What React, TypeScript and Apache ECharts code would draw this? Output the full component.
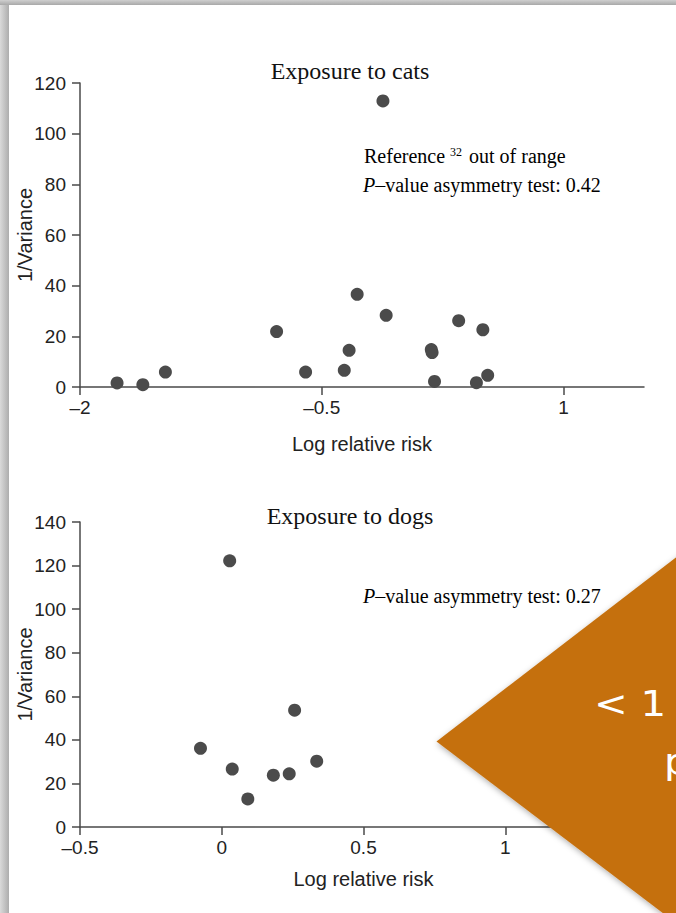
import React, { useEffect, useRef } from "react";
import * as echarts from "echarts";

// ---- data ----
const catsX = [-1.77, -1.61, -1.47, -0.78, -0.6, -0.36, -0.33, -0.28, -0.12, -0.1, 0.18, 0.185, 0.2, 0.35, 0.46, 0.5, 0.53];
const catsY = [1.6, 0.9, 5.9, 21.9, 5.9, 6.6, 14.5, 36.6, 112.9, 28.3, 14.8, 13.6, 2.2, 26.2, 1.7, 22.6, 4.6];
const dogsX = [0.028, 0.257, -0.075, 0.037, 0.092, 0.182, 0.238, 0.335];
const dogsY = [122.2, 53.6, 36.1, 26.6, 12.9, 23.8, 24.4, 30.2];

const catsXTicks = [-2, -0.5, 1];
const dogsXTicks = [-0.5, 0, 0.5, 1];

const catsTitle = "Exposure to cats";
const dogsTitle = "Exposure to dogs";
const catsNote1 = "{a|Reference }{s|32}{a| out of range}";
const catsNote2 = "{i|P}{a|–value asymmetry test: 0.42}";
const dogsNote = "{i|P}{a|–value asymmetry test: 0.27}";
const xName = "Log relative risk";
const yName = "1/Variance";

const sans = "'Liberation Sans', Arial, sans-serif";
const serif = "'Liberation Serif', 'Times New Roman', serif";
const slideFont = "'DejaVu Sans', 'Noto Sans', sans-serif";
const fmt = (v: number) => String(v).replace("-", "–");

const lineColor = "#4a4a4a";
const axisLine = { show: true, onZero: false, lineStyle: { color: lineColor, width: 1.5 } };
const axisTick = { show: true, length: 8, lineStyle: { color: lineColor, width: 1.5 } };
const axisLabel = { color: "#222", fontFamily: sans, fontSize: 19, formatter: fmt };

function xAxis(grid: number, min: number, max: number, ticks: number[], gap: number) {
  return {
    type: "value",
    gridIndex: grid,
    min,
    max,
    splitLine: { show: false },
    axisLine,
    axisTick: { ...axisTick, customValues: ticks },
    axisLabel: { ...axisLabel, margin: 11, customValues: ticks, alignMinLabel: "center", alignMaxLabel: "center" },
    name: xName,
    nameLocation: "middle",
    nameGap: gap,
    nameMoveOverlap: false,
    nameTextStyle: { color: "#222", fontFamily: sans, fontSize: 20 },
  };
}

function yAxis(grid: number, max: number) {
  return {
    type: "value",
    gridIndex: grid,
    min: 0,
    max,
    interval: 20,
    splitLine: { show: false },
    axisLine,
    axisTick,
    axisLabel: { ...axisLabel, margin: 14 },
    name: yName,
    nameLocation: "middle",
    nameRotate: 90,
    nameGap: 45,
    nameMoveOverlap: false,
    nameTextStyle: { color: "#222", fontFamily: sans, fontSize: 20 },
  };
}

export default function App() {
  const ref = useRef<HTMLDivElement>(null);
  useEffect(() => {
    document.body.style.margin = "0";
    const chart = echarts.init(ref.current!, null, { renderer: "svg" });
    const noteRich = {
      a: { fontFamily: serif, fontSize: 20, color: "#222" },
      i: { fontFamily: serif, fontSize: 20, color: "#222", fontStyle: "italic" },
      s: { fontFamily: serif, fontSize: 12, color: "#222", verticalAlign: "top", padding: [0, 2, 9, 0] },
    };
    chart.setOption({
      animation: false,
      backgroundColor: "#ffffff",
      grid: [
        { left: 80, top: 83, width: 564, height: 304 },
        { left: 80, top: 522, width: 567, height: 305 },
      ],
      xAxis: [xAxis(0, -2, 1.5, catsXTicks, 47), xAxis(1, -0.5, 1.5, dogsXTicks, 42)],
      yAxis: [yAxis(0, 120), yAxis(1, 140)],
      series: [
        {
          type: "scatter",
          xAxisIndex: 0,
          yAxisIndex: 0,
          symbolSize: 13,
          itemStyle: { color: "#4b4b4b", opacity: 1 },
          data: catsX.map((x, i) => [x, catsY[i]]),
        },
        {
          type: "scatter",
          xAxisIndex: 1,
          yAxisIndex: 1,
          symbolSize: 13,
          itemStyle: { color: "#4b4b4b", opacity: 1 },
          data: dogsX.map((x, i) => [x, dogsY[i]]),
        },
      ],
      graphic: [
        {
          type: "rect",
          shape: { x: 0, y: 0, width: 9, height: 913 },
          style: {
            fill: new echarts.graphic.LinearGradient(0, 0, 1, 0, [
              { offset: 0, color: "#dadada" },
              { offset: 1, color: "#adadad" },
            ]),
          },
          z: 50,
        },
        {
          type: "rect",
          shape: { x: 0, y: 0, width: 676, height: 5 },
          style: {
            fill: new echarts.graphic.LinearGradient(0, 0, 0, 1, [
              { offset: 0, color: "#cfcfcf" },
              { offset: 1, color: "#a8a8a8" },
            ]),
          },
          z: 51,
        },
        {
          type: "text",
          x: 350,
          y: 71,
          style: { text: catsTitle, font: `24px ${serif}`, fill: "#111", align: "center", verticalAlign: "middle" },
        },
        {
          type: "text",
          x: 350,
          y: 516,
          style: { text: dogsTitle, font: `24px ${serif}`, fill: "#111", align: "center", verticalAlign: "middle" },
        },
        {
          type: "text",
          x: 364,
          y: 156,
          style: { text: catsNote1, rich: noteRich, verticalAlign: "middle" },
        },
        {
          type: "text",
          x: 363,
          y: 185,
          style: { text: catsNote2, rich: noteRich, verticalAlign: "middle" },
        },
        {
          type: "text",
          x: 363,
          y: 596,
          style: { text: dogsNote, rich: noteRich, verticalAlign: "middle" },
        },
        {
          type: "polygon",
          shape: { points: [[436.5, 741.5], [705, 535], [705, 945]] },
          style: { fill: "#c5700e", shadowBlur: 6, shadowColor: "rgba(0,0,0,0.35)", shadowOffsetX: 1, shadowOffsetY: 2 },
          z: 100,
        },
        {
          type: "text",
          x: 594,
          y: 704,
          scaleX: 1.12,
          style: { text: "< 1", font: `36px ${slideFont}`, fill: "#ffffff", verticalAlign: "middle" },
          z: 101,
        },
        {
          type: "text",
          x: 664,
          y: 762,
          scaleX: 1.12,
          style: { text: "p", font: `36px ${slideFont}`, fill: "#ffffff", verticalAlign: "middle" },
          z: 101,
        },
      ],
    });
    return () => chart.dispose();
  }, []);
  return <div ref={ref} style={{ position: "fixed", left: 0, top: 0, width: 676, height: 913 }} />;
}
